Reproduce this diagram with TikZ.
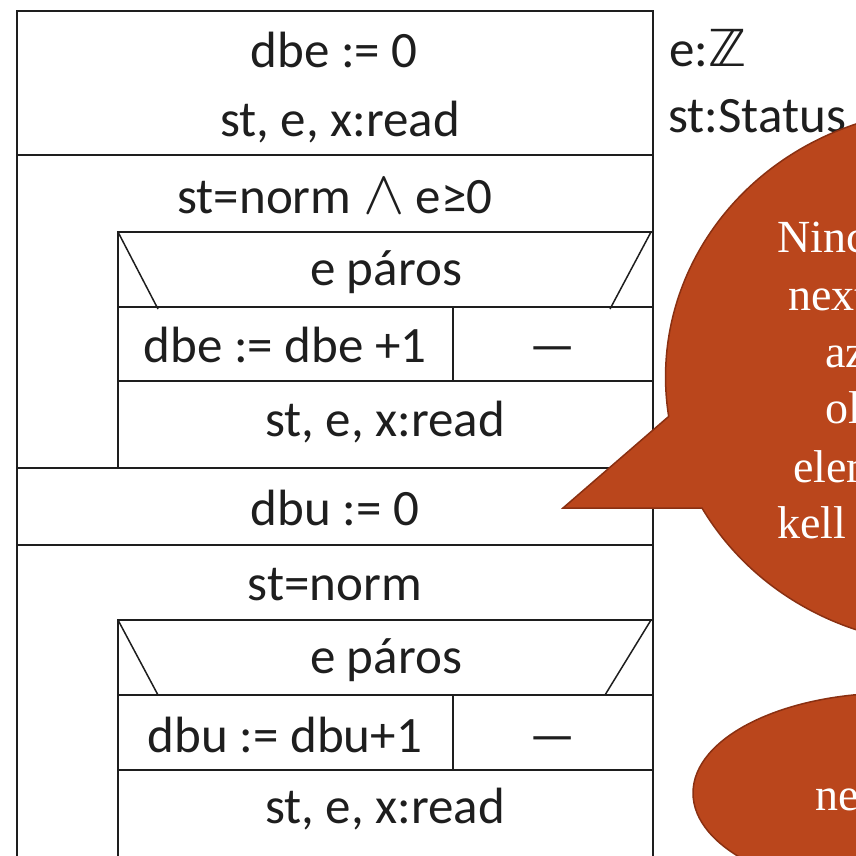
\documentclass[tikz,border=0pt]{standalone}
\usepackage{fontspec}
\setmainfont{Carlito}
\newfontfamily\calloutfont{Liberation Serif}
\newfontfamily\symfont{DejaVu Sans}
\definecolor{rust}{RGB}{186,70,28}
\definecolor{rustdark}{RGB}{138,48,18}
\definecolor{ink}{RGB}{30,30,30}
\newcommand\thinwedge{\scalebox{6.2}{\fontsize{10}{12}\selectfont$\wedge$}}
\tikzset{
  box/.style={line width=2pt, draw=ink},
  diag/.style={line width=1.5pt, draw=ink},
  lbl/.style={anchor=base, inner sep=0pt, text=ink, font=\fontsize{51}{60}\selectfont},
  side/.style={lbl, anchor=base west},
  callout/.style={fill=rust, draw=rustdark, line width=1.5pt},
  ctext/.style={anchor=base west, inner sep=0pt, text=white, font=\calloutfont\fontsize{46}{55}\selectfont},
}
\begin{document}
\begin{tikzpicture}[x=1pt, y=-1pt]
\useasboundingbox (0,0) rectangle (856,855);
\clip (0,0) rectangle (856,855);

% outer structogram frame and its sequence separators
\draw[box] (17,11) rectangle (653,880);
\draw[box] (17,155) -- (653,155);
\draw[box] (17,468) -- (653,468);
\draw[box] (17,545) -- (653,545);

% first loop body: branch on parity
\draw[box] (118,232) rectangle (653,468);
\draw[box] (118,307) -- (653,307);
\draw[box] (118,381) -- (653,381);
\draw[box] (453,307) -- (453,381);
\draw[diag] (118,232) -- (158,309);
\draw[diag] (651,232) -- (610,309);

% second loop body: branch on parity
\draw[box] (118,620) rectangle (653,880);
\draw[box] (118,695) -- (653,695);
\draw[box] (118,770) -- (653,770);
\draw[box] (453,695) -- (453,770);
\draw[diag] (118,620) -- (158,695);
\draw[diag] (651,620) -- (605,695);

% statements
\node[lbl] (init1) at (334,67) {dbe := 0};
\node[lbl] (read0) at (340,136) {st, e, x:read};
\node[lbl] (cond1) at (335,213) {st=norm \thinwedge{} e≥0};
\node[lbl] (if1) at (386,285) {e páros};
\node[lbl] (inc1) at (285,362) {dbe := dbe +1};
\node[lbl] (skip1) at (553,362) {—};
\node[lbl] (read1) at (385,436) {st, e, x:read};
\node[lbl] (init2) at (335,525) {dbu := 0};
\node[lbl] (cond2) at (335,600) {st=norm};
\node[lbl] (if2) at (386,673) {e páros};
\node[lbl] (inc2) at (285,752) {dbu := dbu+1};
\node[lbl] (skip2) at (553,752) {—};
\node[lbl] (read2) at (385,823) {st, e, x:read};

% declarations
\node[side] (decle) at (669,66) {e:{\symfont ℤ}};
\node[side] (declst) at (668,132) {st:Status};

% speech bubbles
\draw[callout] (563,508) -- (702,508)
  arc[start angle=209.3, end angle=548.5, x radius=285pt, y radius=268pt] -- cycle;
\draw[callout] (893,793) ellipse [x radius=200pt, y radius=100pt];

\node[ctext] (n1) at (777,252) {Nincs};
\node[ctext] (n2) at (788,310) {next()};
\node[ctext] (n3) at (825,367) {az};
\node[ctext] (n4) at (825,423) {olvasott};
\node[ctext] (n5) at (793,482) {elemet};
\node[ctext] (n6) at (777,538) {kell};
\node[ctext] (m1) at (815,810) {nem};
\end{tikzpicture}
\end{document}
